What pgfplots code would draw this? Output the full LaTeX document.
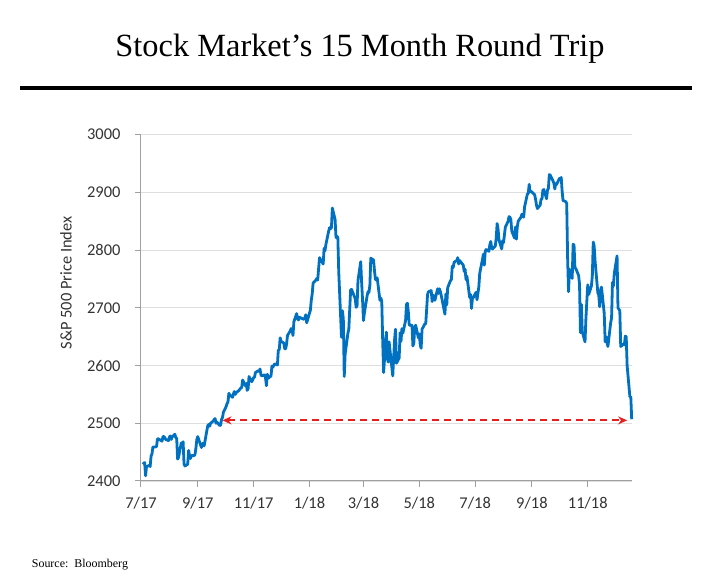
\documentclass[border=0pt]{standalone}
\usepackage{fontspec}
\setmainfont{Carlito}
\newfontfamily\timesfont{Liberation Serif}
\usepackage{pgfplots}
\pgfplotsset{compat=1.18}
\usepgfplotslibrary{dateplot}
\usetikzlibrary{arrows.meta,calc}

\definecolor{spblue}{RGB}{0,112,192}
\definecolor{arrowred}{RGB}{230,30,30}
\definecolor{axisgray}{RGB}{160,160,160}
\definecolor{gridgray}{RGB}{222,222,222}

\begin{document}
\begin{tikzpicture}[x=1bp,y=1bp]
\begin{axis}[
    scale only axis, width=490.7bp, height=346.3bp,
    date coordinates in=x,
    xmin=2017-07-01, xmax=2018-12-19,
    ymin=2400, ymax=3000,
    ytick={2400,2500,...,3000},
    xtick={2017-07-01,2017-09-01,2017-11-01,2018-01-01,2018-03-01,2018-05-01,2018-07-01,2018-09-01,2018-11-01},
    xticklabels={7/17,9/17,11/17,1/18,3/18,5/18,7/18,9/18,11/18},
    axis lines*=left,
    axis line style={axisgray, line width=1bp},
    tick align=outside, major tick length=6bp,
    tick style={axisgray, line width=1bp},
    ymajorgrids, grid style={gridgray, line width=0.8bp},
    tick label style={font=\fontsize{16.5}{18}\selectfont, text=black!80},
    xticklabel style={yshift=-7bp},
    yticklabel style={xshift=-11bp},
    /pgf/number format/assume math mode=true,
    /pgf/number format/1000 sep={},
    ylabel={S\&P 500 Price Index},
    ylabel style={at={(rel axis cs:-0.153,0.572)}, anchor=center, rotate=0,
        font=\fontsize{16.5}{18}\selectfont, text=black!80},
    clip=false,
]
\coordinate (O) at (rel axis cs:0,0);
\addplot[spblue, line width=2.8bp, line join=round] coordinates {
(2017-07-03,2429) (2017-07-05,2432) (2017-07-06,2409) (2017-07-07,2425) (2017-07-10,2427)
(2017-07-11,2425) (2017-07-12,2443) (2017-07-13,2447) (2017-07-14,2459) (2017-07-17,2459)
(2017-07-18,2460) (2017-07-19,2473) (2017-07-20,2473) (2017-07-21,2472) (2017-07-24,2469)
(2017-07-25,2477) (2017-07-26,2477) (2017-07-27,2475) (2017-07-28,2472) (2017-07-31,2470)
(2017-08-01,2476) (2017-08-02,2478) (2017-08-03,2472) (2017-08-04,2476) (2017-08-07,2481)
(2017-08-08,2475) (2017-08-09,2474) (2017-08-10,2438) (2017-08-11,2441) (2017-08-14,2466)
(2017-08-15,2464) (2017-08-16,2468) (2017-08-17,2430) (2017-08-18,2426) (2017-08-21,2429)
(2017-08-22,2453) (2017-08-23,2444) (2017-08-24,2439) (2017-08-25,2444) (2017-08-28,2444)
(2017-08-29,2446) (2017-08-30,2457) (2017-08-31,2472)
(2017-09-01,2477) (2017-09-05,2458) (2017-09-06,2465) (2017-09-07,2465) (2017-09-08,2461)
(2017-09-11,2488) (2017-09-12,2496) (2017-09-13,2498) (2017-09-14,2495) (2017-09-15,2500)
(2017-09-18,2504) (2017-09-19,2507) (2017-09-20,2508) (2017-09-21,2500) (2017-09-22,2502)
(2017-09-25,2496) (2017-09-26,2497) (2017-09-27,2507) (2017-09-28,2510) (2017-09-29,2519)
(2017-10-02,2529) (2017-10-03,2534) (2017-10-04,2537) (2017-10-05,2552) (2017-10-06,2549)
(2017-10-09,2545) (2017-10-10,2551) (2017-10-11,2555) (2017-10-12,2550) (2017-10-13,2553)
(2017-10-16,2557) (2017-10-17,2559) (2017-10-18,2561) (2017-10-19,2562) (2017-10-20,2575)
(2017-10-23,2565) (2017-10-24,2569) (2017-10-25,2557) (2017-10-26,2560) (2017-10-27,2581)
(2017-10-30,2572) (2017-10-31,2575)
(2017-11-01,2579) (2017-11-02,2580) (2017-11-03,2588) (2017-11-06,2591) (2017-11-07,2590)
(2017-11-08,2594) (2017-11-09,2584) (2017-11-10,2582) (2017-11-13,2584) (2017-11-14,2579)
(2017-11-15,2565) (2017-11-16,2585) (2017-11-17,2578) (2017-11-20,2582) (2017-11-21,2599)
(2017-11-22,2597) (2017-11-24,2603) (2017-11-27,2601) (2017-11-28,2627) (2017-11-29,2627)
(2017-11-30,2648)
(2017-12-01,2642) (2017-12-04,2639) (2017-12-05,2629) (2017-12-06,2629) (2017-12-07,2637)
(2017-12-08,2652) (2017-12-11,2660) (2017-12-12,2664) (2017-12-13,2663) (2017-12-14,2652)
(2017-12-15,2676) (2017-12-18,2690) (2017-12-19,2681) (2017-12-20,2679) (2017-12-21,2684)
(2017-12-22,2683) (2017-12-26,2680) (2017-12-27,2683) (2017-12-28,2688) (2017-12-29,2674)
(2018-01-02,2696) (2018-01-03,2713) (2018-01-04,2724) (2018-01-05,2743) (2018-01-08,2748)
(2018-01-09,2751) (2018-01-10,2748) (2018-01-11,2768) (2018-01-12,2787) (2018-01-16,2776)
(2018-01-17,2803) (2018-01-18,2799) (2018-01-19,2810) (2018-01-22,2833) (2018-01-23,2839)
(2018-01-24,2837) (2018-01-25,2839) (2018-01-26,2873) (2018-01-29,2853) (2018-01-30,2822)
(2018-01-31,2824)
(2018-02-01,2822) (2018-02-02,2762) (2018-02-05,2649) (2018-02-06,2695) (2018-02-07,2681)
(2018-02-08,2581) (2018-02-09,2620) (2018-02-12,2656) (2018-02-13,2663) (2018-02-14,2698)
(2018-02-15,2731) (2018-02-16,2732) (2018-02-20,2716) (2018-02-21,2701) (2018-02-22,2703)
(2018-02-23,2747) (2018-02-26,2780) (2018-02-27,2744) (2018-02-28,2714)
(2018-03-01,2678) (2018-03-02,2691) (2018-03-05,2721) (2018-03-06,2728) (2018-03-07,2727)
(2018-03-08,2739) (2018-03-09,2786) (2018-03-12,2783) (2018-03-13,2765) (2018-03-14,2750)
(2018-03-15,2748) (2018-03-16,2752) (2018-03-19,2713) (2018-03-20,2717) (2018-03-21,2711)
(2018-03-22,2643) (2018-03-23,2588) (2018-03-26,2658) (2018-03-27,2613) (2018-03-28,2606)
(2018-03-29,2641)
(2018-04-02,2582) (2018-04-03,2614) (2018-04-04,2645) (2018-04-05,2663) (2018-04-06,2604)
(2018-04-09,2613) (2018-04-10,2657) (2018-04-11,2642) (2018-04-12,2664) (2018-04-13,2656)
(2018-04-16,2678) (2018-04-17,2706) (2018-04-18,2708) (2018-04-19,2693) (2018-04-20,2670)
(2018-04-23,2670) (2018-04-24,2634) (2018-04-25,2639) (2018-04-26,2666) (2018-04-27,2670)
(2018-04-30,2648)
(2018-05-01,2655) (2018-05-02,2636) (2018-05-03,2630) (2018-05-04,2663) (2018-05-07,2672)
(2018-05-08,2672) (2018-05-09,2697) (2018-05-10,2723) (2018-05-11,2728) (2018-05-14,2730)
(2018-05-15,2711) (2018-05-16,2722) (2018-05-17,2720) (2018-05-18,2713) (2018-05-21,2733)
(2018-05-22,2725) (2018-05-23,2733) (2018-05-24,2728) (2018-05-25,2721) (2018-05-29,2689)
(2018-05-30,2724) (2018-05-31,2705)
(2018-06-01,2735) (2018-06-04,2747) (2018-06-05,2749) (2018-06-06,2772) (2018-06-07,2770)
(2018-06-08,2779) (2018-06-11,2782) (2018-06-12,2787) (2018-06-13,2776) (2018-06-14,2782)
(2018-06-15,2780) (2018-06-18,2774) (2018-06-19,2763) (2018-06-20,2767) (2018-06-21,2749)
(2018-06-22,2755) (2018-06-25,2718) (2018-06-26,2723) (2018-06-27,2699) (2018-06-28,2716)
(2018-06-29,2718)
(2018-07-02,2727) (2018-07-03,2714) (2018-07-05,2736) (2018-07-06,2760) (2018-07-09,2784)
(2018-07-10,2793) (2018-07-11,2774) (2018-07-12,2798) (2018-07-13,2801) (2018-07-16,2798)
(2018-07-17,2809) (2018-07-18,2815) (2018-07-19,2804) (2018-07-20,2802) (2018-07-23,2807)
(2018-07-24,2821) (2018-07-25,2846) (2018-07-26,2837) (2018-07-27,2818) (2018-07-30,2802)
(2018-07-31,2816)
(2018-08-01,2813) (2018-08-02,2827) (2018-08-03,2840) (2018-08-06,2850) (2018-08-07,2858)
(2018-08-08,2857) (2018-08-09,2853) (2018-08-10,2833) (2018-08-13,2821) (2018-08-14,2840)
(2018-08-15,2819) (2018-08-16,2840) (2018-08-17,2850) (2018-08-20,2857) (2018-08-21,2862)
(2018-08-22,2861) (2018-08-23,2857) (2018-08-24,2875) (2018-08-27,2897) (2018-08-28,2898)
(2018-08-29,2914) (2018-08-30,2901) (2018-08-31,2902)
(2018-09-04,2896) (2018-09-05,2888) (2018-09-06,2878) (2018-09-07,2872) (2018-09-10,2878)
(2018-09-11,2888) (2018-09-12,2889) (2018-09-13,2904) (2018-09-14,2905) (2018-09-17,2889)
(2018-09-18,2904) (2018-09-19,2907) (2018-09-20,2931) (2018-09-21,2930) (2018-09-24,2920)
(2018-09-25,2916) (2018-09-26,2906) (2018-09-27,2915) (2018-09-28,2914)
(2018-10-01,2924) (2018-10-02,2923) (2018-10-03,2926) (2018-10-04,2902) (2018-10-05,2886)
(2018-10-08,2884) (2018-10-09,2881) (2018-10-10,2786) (2018-10-11,2728) (2018-10-12,2767)
(2018-10-15,2751) (2018-10-16,2810) (2018-10-17,2809) (2018-10-18,2769) (2018-10-19,2768)
(2018-10-22,2756) (2018-10-23,2741) (2018-10-24,2657) (2018-10-25,2706) (2018-10-26,2659)
(2018-10-29,2641) (2018-10-30,2682) (2018-10-31,2712)
(2018-11-01,2740) (2018-11-02,2723) (2018-11-05,2738) (2018-11-06,2756) (2018-11-07,2814)
(2018-11-08,2807) (2018-11-09,2781) (2018-11-12,2726) (2018-11-13,2722) (2018-11-14,2702)
(2018-11-15,2731) (2018-11-16,2736) (2018-11-19,2690) (2018-11-20,2641) (2018-11-21,2650)
(2018-11-23,2633) (2018-11-26,2674) (2018-11-27,2682) (2018-11-28,2744) (2018-11-29,2738)
(2018-11-30,2760)
(2018-12-03,2790) (2018-12-04,2700) (2018-12-06,2695) (2018-12-07,2633) (2018-12-10,2637)
(2018-12-11,2636) (2018-12-12,2651) (2018-12-13,2650) (2018-12-14,2600) (2018-12-17,2546)
(2018-12-18,2546) (2018-12-19,2507)
};
% round-trip marker
\addplot[arrowred, line width=1.8bp, dash pattern=on 7bp off 5bp,
    {Stealth[length=9bp,width=8bp]}-{Stealth[length=9bp,width=8bp]}] coordinates {
(2017-09-28,2505) (2018-12-14,2505)
};
\end{axis}

% page frame placed from the axis corner
\coordinate (P) at ($(O)+(-141,-98)$);
\useasboundingbox (P) rectangle ($(P)+(728,579)$);
\node[anchor=base, font=\timesfont\fontsize{32.5}{36}\selectfont, inner sep=0] at ($(P)+(360,522)$) {Stock Market’s 15 Month Round Trip};
\draw[line width=4bp] ($(P)+(20,490.7)$) -- ($(P)+(692,490.7)$);
\node[anchor=base west, font=\timesfont\fontsize{12}{14}\selectfont, inner sep=0] at ($(P)+(31.7,11)$) {Source:\ \ Bloomberg};
\end{tikzpicture}
\end{document}
